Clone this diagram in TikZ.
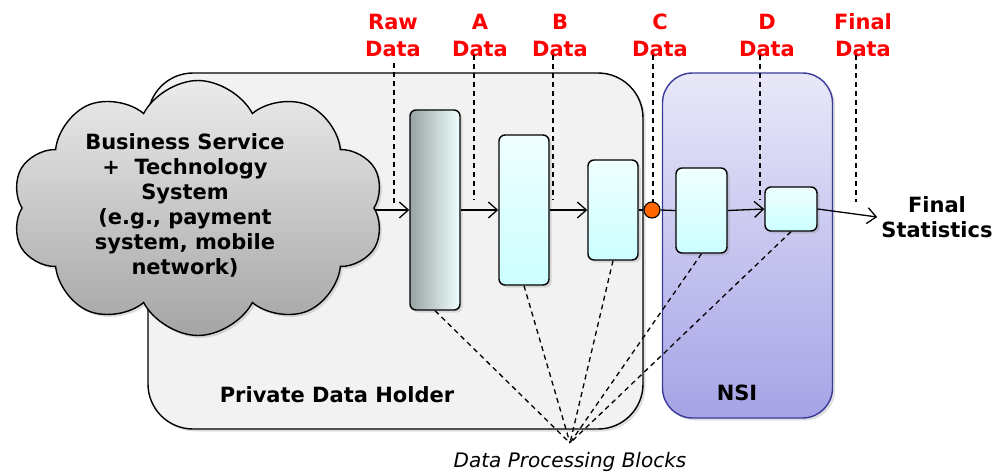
\documentclass[tikz,border=0pt]{standalone}
\usepackage{fontspec}
\setmainfont{DejaVu Sans}
\usetikzlibrary{shapes.symbols,arrows.meta,shadows}
\definecolor{pdhfill}{HTML}{F2F2F2}
\definecolor{nsitop}{HTML}{E8E8F8}
\definecolor{nsibot}{HTML}{A6A3E6}
\definecolor{nsidraw}{HTML}{3A3A9A}
\definecolor{cyantop}{HTML}{F0FFFF}
\definecolor{cyanbot}{HTML}{CCFFFF}
\definecolor{bleft}{HTML}{98A3A3}
\definecolor{bmid}{HTML}{D2F2F2}
\definecolor{cloudtop}{HTML}{EBEBEB}
\definecolor{cloudbot}{HTML}{A5A5A5}
\definecolor{dotorange}{HTML}{FF6600}
\begin{document}
\begin{tikzpicture}[x=1pt,y=-1pt,
  shd/.style={drop shadow={shadow xshift=2.5pt,shadow yshift=-2.5pt,opacity=0.25}},
  blockbox/.style={draw=black,line width=1.4pt,rounded corners=6pt,inner sep=0pt,shd},
  cyanblock/.style={blockbox,top color=cyantop,bottom color=cyanbot},
  flow/.style={line width=1.3pt,-{Straight Barb[length=9pt,width=16pt,line width=1.3pt]}},
  plainflow/.style={line width=1.3pt},
  dashln/.style={line width=1.3pt,dash pattern=on 5pt off 4pt},
  lbl/.style={text=red,font=\bfseries\fontsize{21}{27}\selectfont,align=center,inner sep=0pt},
  big/.style={font=\bfseries\fontsize{21}{25}\selectfont,align=center,inner sep=0pt},
]
\useasboundingbox (0,0) rectangle (994,475);

% containers
\node[draw=black,line width=1.4pt,fill=pdhfill,rounded corners=45pt,minimum width=495pt,minimum height=356pt,shd] (pdh) at (395.5,251) {};
\node[draw=nsidraw,line width=1.4pt,top color=nsitop,bottom color=nsibot,rounded corners=30pt,minimum width=170pt,minimum height=345pt,shd] (nsi) at (747.5,245.5) {};
\node[big] (pdhlbl) at (337,395) {Private Data Holder};
\node[big] (nsilbl) at (737,393) {NSI};

% cloud
\node[cloud,cloud puffs=10,cloud puff arc=125,draw=black,line width=1.4pt,top color=cloudtop,bottom color=cloudbot,minimum width=372pt,minimum height=255pt,inner sep=0pt,shd] (cloud) at (198,208) {};
\node[big] (cloudtxt) at (185,205) {Business Service\\+\ \ Technology\\System\\(e.g., payment\\system, mobile\\network)};

% top labels
\node[lbl] (lraw) at (393,35) {Raw\\Data};
\node[lbl] (la) at (480,35) {A\\Data};
\node[lbl] (lb) at (560,35) {B\\Data};
\node[lbl] (lc) at (660,35) {C\\Data};
\node[lbl] (ld) at (767,35) {D\\Data};
\node[lbl] (lf) at (863,35) {Final\\Data};

\coordinate (rawt) at (394,63); \coordinate (rawb) at (394,205);
\coordinate (at) at (474,55);   \coordinate (ab) at (474,200);
\coordinate (bt) at (553,55);   \coordinate (bb) at (553,200);
\coordinate (ct) at (653,55);   \coordinate (cb) at (653,202);
\coordinate (dt) at (760,55);   \coordinate (db) at (760,200);
\coordinate (ft) at (856,55);   \coordinate (fb) at (856,202);
\foreach \s in {raw,a,b,c,d,f}{\draw[dashln] (\s t) -- (\s b);}

% blocks
\node[blockbox,left color=bleft,middle color=bmid,right color=cyantop,minimum width=50pt,minimum height=200pt] (b1) at (435,210) {};
\node[cyanblock,minimum width=50pt,minimum height=150pt] (b2) at (524,210) {};
\node[cyanblock,minimum width=50pt,minimum height=100pt] (b3) at (613,210) {};
\node[cyanblock,minimum width=51pt,minimum height=85pt] (b4) at (701.5,210.5) {};
\node[cyanblock,minimum width=52pt,minimum height=44pt] (b5) at (791,209) {};
\node[circle,draw=black,line width=1.1pt,fill=dotorange,minimum size=16pt,inner sep=0pt] (dot) at (652,210) {};

% flow
\draw[flow] (cloud.east |- b1.west) -- (b1.west);
\draw[flow] (b1.east) -- (b2.west);
\draw[flow] (b2.east) -- (b3.west);
\draw[plainflow] (b3.east) -- (dot.west);
\draw[plainflow] (dot.east) -- (b4.west);
\draw[flow] (b4.east) -- (b5.west);
\node[big,inner sep=4pt] (fstat) at (937,217) {Final\\Statistics};
\draw[flow] (b5.east) -- (fstat.west);

% processing blocks
\coordinate (apex) at (570,443);
\foreach \b in {b1,b2,b3,b4,b5}{\draw[dashln] (\b.south) -- (apex);}
\node[font=\itshape\fontsize{20}{24}\selectfont,inner sep=0pt] (dpb) at (570,462) {Data Processing Blocks};
\end{tikzpicture}
\end{document}
